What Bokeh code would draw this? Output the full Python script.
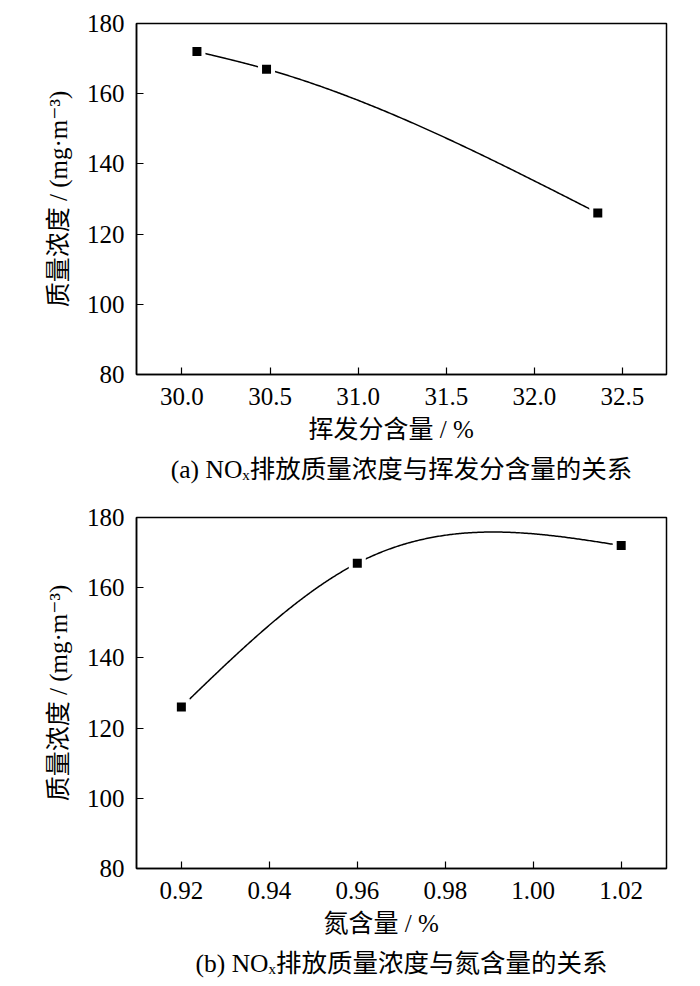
import numpy as np
from bokeh.plotting import figure
from bokeh.models import Range1d, FixedTicker, PrintfTickFormatter, Title
from bokeh.layouts import column
from bokeh.embed import file_html
from bokeh.resources import INLINE

# ---- data ----
volatile_pct = [30.085, 30.48, 32.36]
nox_a = [172, 167, 126]
nitrogen_pct = [0.92, 0.96, 1.02]
nox_b = [126, 167, 172]
xticks_a = [30.0, 30.5, 31.0, 31.5, 32.0, 32.5]
xticks_b = [0.92, 0.94, 0.96, 0.98, 1.00, 1.02]
yticks = [80, 100, 120, 140, 160, 180]
ylabel = "质量浓度 / (mg·m⁻³)"
xlabel_a = "挥发分含量 / %"
xlabel_b = "氮含量 / %"
caption_a = "(a) NOₓ排放质量浓度与挥发分含量的关系"
caption_b = "(b) NOₓ排放质量浓度与氮含量的关系"

NUM_FONT = "Liberation Serif"
FONT = "Liberation Serif, DejaVu Serif, Noto Sans CJK SC"


def natural_spline(x, y, n=200):
    x = np.asarray(x, float)
    y = np.asarray(y, float)
    k = len(x)
    h = np.diff(x)
    A = np.zeros((k, k))
    b = np.zeros(k)
    A[0, 0] = 1
    A[-1, -1] = 1
    for i in range(1, k - 1):
        A[i, i - 1] = h[i - 1]
        A[i, i] = 2 * (h[i - 1] + h[i])
        A[i, i + 1] = h[i]
        b[i] = 6 * ((y[i + 1] - y[i]) / h[i] - (y[i] - y[i - 1]) / h[i - 1])
    M = np.linalg.solve(A, b)
    xs, ys = [], []
    for i in range(k - 1):
        t = np.linspace(x[i], x[i + 1], n)
        a = x[i + 1] - t
        c = t - x[i]
        s = ((M[i] * a ** 3 + M[i + 1] * c ** 3) / (6 * h[i])
             + (y[i] / h[i] - M[i] * h[i] / 6) * a
             + (y[i + 1] / h[i] - M[i + 1] * h[i] / 6) * c)
        xs.extend(t.tolist())
        ys.extend(s.tolist())
    return xs, ys


def make_panel(xs, ys, xr, xticks, fmt, xlabel, label_offset, caption, top, bottom):
    p = figure(frame_width=530, frame_height=351,
               x_range=Range1d(*xr), y_range=Range1d(80, 180),
               output_backend="svg", toolbar_location=None,
               min_border_left=136, min_border_right=26,
               min_border_top=top, min_border_bottom=bottom)
    p.background_fill_color = "white"
    p.border_fill_color = "white"
    p.outline_line_color = "black"
    p.outline_line_width = 1.5
    p.grid.grid_line_color = None

    cx, cy = natural_spline(xs, ys)
    p.line(cx, cy, line_color="black", line_width=1.5)
    p.scatter(xs, ys, marker="square", size=17, fill_color="white", line_color=None)
    p.scatter(xs, ys, marker="square", size=9, fill_color="black", line_color=None)

    for ax in (p.xaxis, p.yaxis):
        ax.axis_line_width = 1.5
        ax.axis_line_color = "black"
        ax.major_tick_line_width = 1.2
        ax.major_tick_in = 7
        ax.major_tick_out = 0
        ax.minor_tick_line_color = None
        ax.major_label_text_font = NUM_FONT
        ax.major_label_text_font_size = "25px"
        ax.major_label_text_color = "black"
        ax.axis_label_text_font = FONT
        ax.axis_label_text_font_size = "25px"
        ax.axis_label_text_font_style = "normal"
        ax.axis_label_text_color = "black"

    p.xaxis.ticker = FixedTicker(ticks=xticks)
    p.xaxis.formatter = PrintfTickFormatter(format=fmt)
    p.xaxis.major_label_standoff = 13

    p.yaxis.ticker = FixedTicker(ticks=yticks)
    p.yaxis.major_label_standoff = 12
    p.yaxis.axis_label = ylabel
    p.yaxis.axis_label_standoff = 12

    # x-axis title, placed slightly left of centre as in the reference
    p.add_layout(Title(text=xlabel, align="left", offset=label_offset,
                       text_font=FONT, text_font_size="25px",
                       text_font_style="normal", text_color="black",
                       standoff=13), "below")
    p.add_layout(Title(text=caption, align="center", text_font=FONT,
                       text_font_size="25.5px", text_font_style="normal",
                       text_color="black", standoff=7), "below")
    return p


p1 = make_panel(volatile_pct, nox_a, (29.742, 32.75), xticks_a, "%.1f",
                xlabel_a, 172, caption_a, 23, 124)
p2 = make_panel(nitrogen_pct, nox_b, (0.9098, 1.0303), xticks_b, "%.2f",
                xlabel_b, 187, caption_b, 19, 108)

layout = column(p1, p2, spacing=0)
open("out.html", "w").write(file_html(layout, INLINE))
